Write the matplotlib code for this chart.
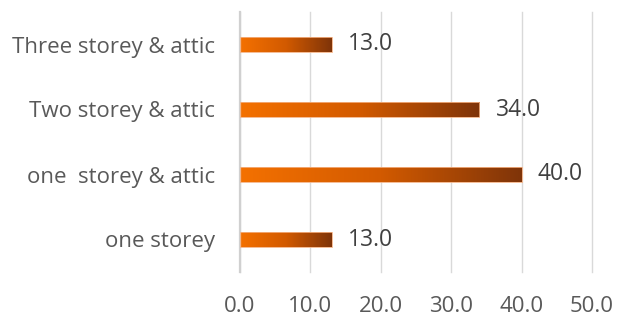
import matplotlib
matplotlib.use("Agg")
import matplotlib.pyplot as plt
import numpy as np
from matplotlib.colors import LinearSegmentedColormap

categories = ["one storey", "one  storey & attic", "Two storey & attic", "Three storey & attic"]
values = [13.0, 40.0, 34.0, 13.0]
xticks = [0, 10, 20, 30, 40, 50]

plt.rcParams['font.family'] = ['Open Sans', 'DejaVu Sans']

fig = plt.figure(figsize=(6.17, 3.22), dpi=100)
ax = fig.add_axes([240/617, 1 - 272/322, (592-240)/617, (272-12)/322])

cmap = LinearSegmentedColormap.from_list("og", ["#F47100", "#D25A00", "#7F3409"])
grad = np.linspace(0, 1, 256).reshape(1, -1)

y = np.arange(len(categories))
bars = ax.barh(y, values, height=0.225, color="none", edgecolor="#F4B183", linewidth=0.6, zorder=3)
for b in bars:
    x0, y0 = b.get_x(), b.get_y()
    w, h = b.get_width(), b.get_height()
    ax.imshow(grad, cmap=cmap, aspect="auto", extent=(x0, x0 + w, y0, y0 + h),
              zorder=2, interpolation="bilinear")

for yi, v in zip(y, values):
    ax.text(v + 2.3, yi, f"{v:.1f}", va="center", ha="left", fontsize=16.5, color="#404040")

ax.set_xlim(0, 50)
ax.set_ylim(-0.5, len(categories) - 0.5)
ax.set_xticks(xticks)
ax.set_xticklabels([f"{t:.1f}" for t in xticks], fontsize=16, color="#595959")
ax.set_yticks(y)
ax.set_yticklabels(categories, fontsize=16, color="#595959")
ax.tick_params(axis="both", length=0)
ax.tick_params(axis="x", pad=17)
ax.tick_params(axis="y", pad=18)
ax.grid(axis="x", color="#D9D9D9", linewidth=1.0, zorder=0)
for gl in ax.get_xgridlines():
    gl.set_clip_on(False)
ax.set_axisbelow(True)
for s in ["top", "right", "bottom"]:
    ax.spines[s].set_visible(False)
ax.spines["left"].set_color("#D0D0D0")
ax.spines["left"].set_linewidth(1.6)

fig.savefig("out.png", dpi=100)
